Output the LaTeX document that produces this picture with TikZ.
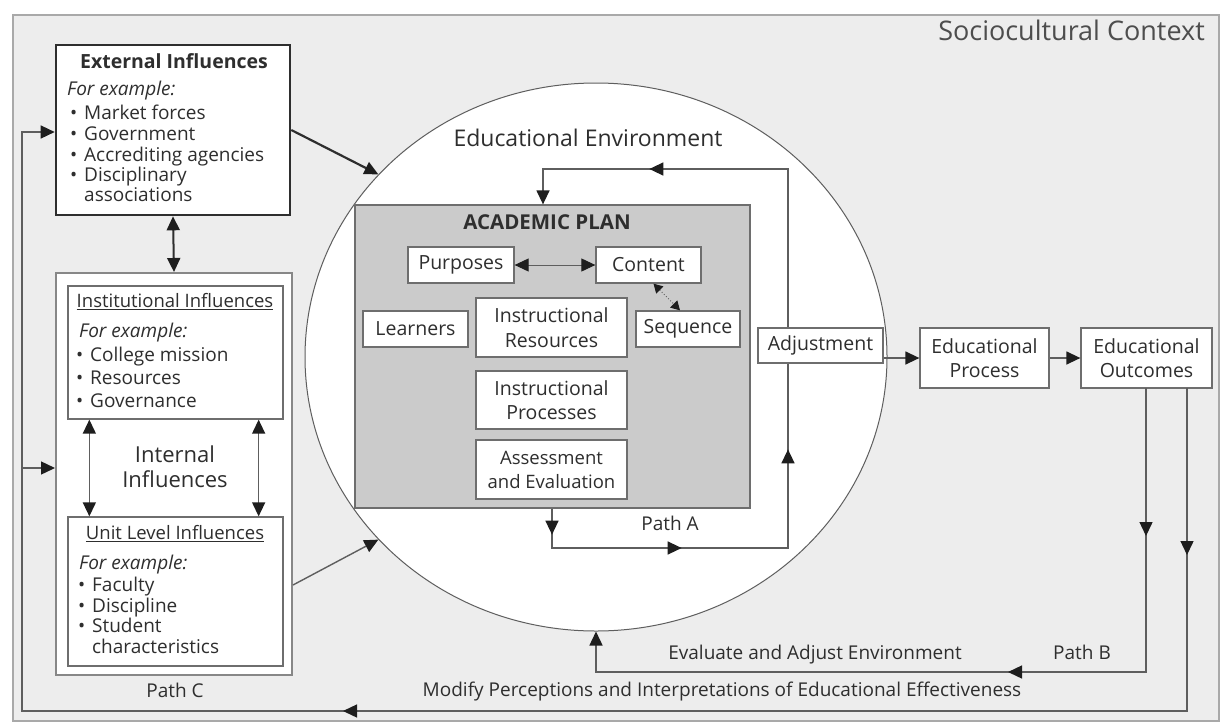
\documentclass[tikz,border=0pt]{standalone}
\usepackage{fontspec}
\setmainfont{Open Sans}
\usetikzlibrary{arrows.meta,shapes.geometric,decorations.markings,calc}
\definecolor{bggray}{HTML}{EDEDED}
\definecolor{framegray}{HTML}{A9A9A9}
\definecolor{plangray}{HTML}{CBCBCB}
\definecolor{boxline}{HTML}{6E6E6E}
\definecolor{linegray}{HTML}{5E5E5E}
\definecolor{inkgray}{HTML}{2E2E2E}
\definecolor{tipcol}{HTML}{1E1E1E}
\newcommand\itembul[1]{\makebox[14pt][l]{\textbullet}#1}
\tikzset{tri/.tip={Triangle[length=14pt,width=13pt,color=tipcol]}}
\begin{document}
\begin{tikzpicture}[x=1pt,y=-1pt,
  txt/.style={text=inkgray,inner sep=0pt,font=\fontsize{19}{22}\selectfont,text height=14pt,text depth=4.5pt},
  wbox/.style={draw=boxline,fill=white,line width=1.3pt,inner sep=0pt,rectangle,text=inkgray,
    align=center,font=\fontsize{19.5}{24.5}\selectfont},
  conn/.style={draw=linegray,line width=1.4pt},
  tipat/.style={postaction={decorate,decoration={markings,mark=at position #1 with {\arrow{tri}}}}},
  ]
\useasboundingbox (0,0) rectangle (1225,726);
\fill[white] (0,0) rectangle (1225,726);
% sociocultural frame
\draw[draw=framegray,fill=bggray,line width=2.5pt] (13,15) rectangle (1219,721);
\node[txt,anchor=east,font=\fontsize{27}{29}\selectfont,text=inkgray!85] (socio) at (1205,36) {Sociocultural Context};

% educational environment
\node[ellipse,draw=linegray,fill=white,line width=1pt,minimum width=582pt,minimum height=548pt,inner sep=0pt] (env) at (596,357) {};
\node[txt,font=\fontsize{23}{26}\selectfont] (envlbl) at (588,142) {Educational Environment};

% academic plan
\node[rectangle,draw=boxline,fill=plangray,line width=1.3pt,minimum width=395pt,minimum height=303pt,inner sep=0pt] (plan) at (552.5,356.5) {};
\node[txt,font=\bfseries\fontsize{20.5}{22}\selectfont] (acad) at (547,225) {ACADEMIC PLAN};
\node[wbox,minimum width=106pt,minimum height=36pt] (purp) at (461,265) {Purposes};
\node[wbox,minimum width=105pt,minimum height=36pt] (cont) at (648.5,265) {Content};
\node[wbox,minimum width=105pt,minimum height=36pt] (lrn) at (415.5,329) {Learners};
\node[wbox,minimum width=151pt,minimum height=59pt] (ires) at (551.5,327.5) {Instructional\\Resources};
\node[wbox,minimum width=104pt,minimum height=36pt] (seq) at (688,329) {Sequence};
\node[wbox,minimum width=151pt,minimum height=58pt] (iproc) at (551.5,400) {Instructional\\Processes};
\node[wbox,minimum width=151pt,minimum height=59pt,font=\fontsize{18.5}{24}\selectfont] (assess) at (551.5,469.5) {Assessment\\and Evaluation};
\draw[conn,line width=1pt,{tri}-{tri}] (purp) -- (cont);
\draw[conn,line width=1pt,dotted,{Triangle[length=9pt,width=10pt,color=tipcol]}-{Triangle[length=9pt,width=10pt,color=tipcol]}]
  ($(cont.south)+(5,0)$) -- ($(seq.north)+(-8,0)$);

% path A loop
\coordinate (pa1) at (552,548);
\coordinate (pa2) at (788,548);
\coordinate (pa3) at (788,169);
\coordinate (pa4) at (543,169);
\draw[conn,-{tri},tipat=26pt,tipat=169pt,tipat=374pt,tipat=793pt]
  (plan.south -| pa1) -- (pa1) -- (pa2) -- (pa3) -- (pa4) -- (plan.north -| pa4);
\node[txt] (pathA) at (670,526) {Path A};

% outcome chain
\node[wbox,minimum width=125pt,minimum height=35pt] (adj) at (820.5,345.5) {Adjustment};
\node[wbox,minimum width=129pt,minimum height=60pt] (proc) at (984.5,358) {Educational\\Process};
\node[wbox,minimum width=131pt,minimum height=60pt] (outc) at (1146.5,358) {Educational\\Outcomes};
\draw[conn,-{tri}] (adj.east |- proc.west) -- (proc.west);
\draw[conn,-{tri}] (proc) -- (outc);

% path B
\coordinate (pb0) at (1146,388);
\coordinate (pb1) at (1146,672);
\coordinate (pb2) at (596,672);
\draw[conn,-{tri},tipat=148pt,tipat=422pt] (pb0) -- (pb1) -- (pb2) -- (env.south);
\node[txt] (pathB) at (1082,655) {Path B};
\node[txt] (evalLbl) at (815,655) {Evaluate and Adjust Environment};

% path C
\coordinate (pc0) at (1187,388);
\coordinate (pc1) at (1187,711);
\coordinate (pc2) at (22,711);
\coordinate (pc3) at (22,132);
\coordinate (pc4) at (22,468);
\node[txt] (modLbl) at (722,692) {Modify Perceptions and Interpretations of Educational Effectiveness};

% external influences
\node[rectangle,draw=inkgray,fill=white,line width=2.6pt,minimum width=234pt,minimum height=170pt,inner sep=0pt] (ext) at (173,130) {};
\node[txt,font=\bfseries\fontsize{19.5}{22}\selectfont] (extT) at (174,64) {External Influences};
\node[txt,anchor=west] (ex0) at (67,91) {\textit{For example:}};
\node[txt,anchor=west] (ex1) at (70,115) {\itembul{Market forces}};
\node[txt,anchor=west] (ex2) at (70,136) {\itembul{Government}};
\node[txt,anchor=west] (ex3) at (70,157) {\itembul{Accrediting agencies}};
\node[txt,anchor=west] (ex4) at (70,177) {\itembul{Disciplinary}};
\node[txt,anchor=west] (ex5) at (84,197) {associations};

% internal influences
\node[rectangle,draw=framegray!80!black,fill=white,line width=2pt,minimum width=236pt,minimum height=402pt,inner sep=0pt] (intout) at (174,474) {};
\node[wbox,minimum width=215pt,minimum height=133pt] (inst) at (175.5,352.5) {};
\node[wbox,minimum width=215pt,minimum height=149pt] (unit) at (175.5,591.5) {};
\node[txt,font=\fontsize{18.5}{22}\selectfont] (instT) at (175,303) {\underline{Institutional Influences}};
\node[txt,anchor=west] (in0) at (79,333) {\textit{For example:}};
\node[txt,anchor=west] (in1) at (76,357) {\itembul{College mission}};
\node[txt,anchor=west] (in2) at (76,380) {\itembul{Resources}};
\node[txt,anchor=west] (in3) at (76,403) {\itembul{Governance}};
\node[txt,font=\fontsize{18.5}{22}\selectfont] (unitT) at (175,535) {\underline{Unit Level Influences}};
\node[txt,anchor=west] (un0) at (79,565) {\textit{For example:}};
\node[txt,anchor=west] (un1) at (78,587) {\itembul{Faculty}};
\node[txt,anchor=west] (un2) at (78,608) {\itembul{Discipline}};
\node[txt,anchor=west] (un3) at (78,628) {\itembul{Student}};
\node[txt,anchor=west] (un4) at (92,649) {characteristics};
\node[txt,align=center,font=\fontsize{22}{25}\selectfont,text height=,text depth=] (intlbl) at (175,467) {Internal\\Influences};
\node[txt] (pathC) at (175,693) {Path C};

\draw[conn,{tri}-{tri}] ($(inst.south west)+(22,0)$) -- ($(unit.north west)+(22,0)$);
\draw[conn,{tri}-{tri}] ($(inst.south east)+(-25,0)$) -- ($(unit.north east)+(-25,0)$);
\draw[draw=inkgray,line width=2pt,{tri}-{tri}] (ext.south) -- (intout.north);
\draw[draw=inkgray,line width=2.2pt,-{tri}] (ext.east) -- (env.140);
\draw[conn,-{tri}] (intout.east |- 0,585) -- (env.220);

\draw[conn,-{tri},tipat=167pt,tipat=1167pt] (pc0) -- (pc1) -- (pc2) -- (pc3) -- (pc3 -| ext.west);
\draw[conn,-{tri}] (pc4) -- (pc4 -| intout.west);
\end{tikzpicture}
\end{document}
